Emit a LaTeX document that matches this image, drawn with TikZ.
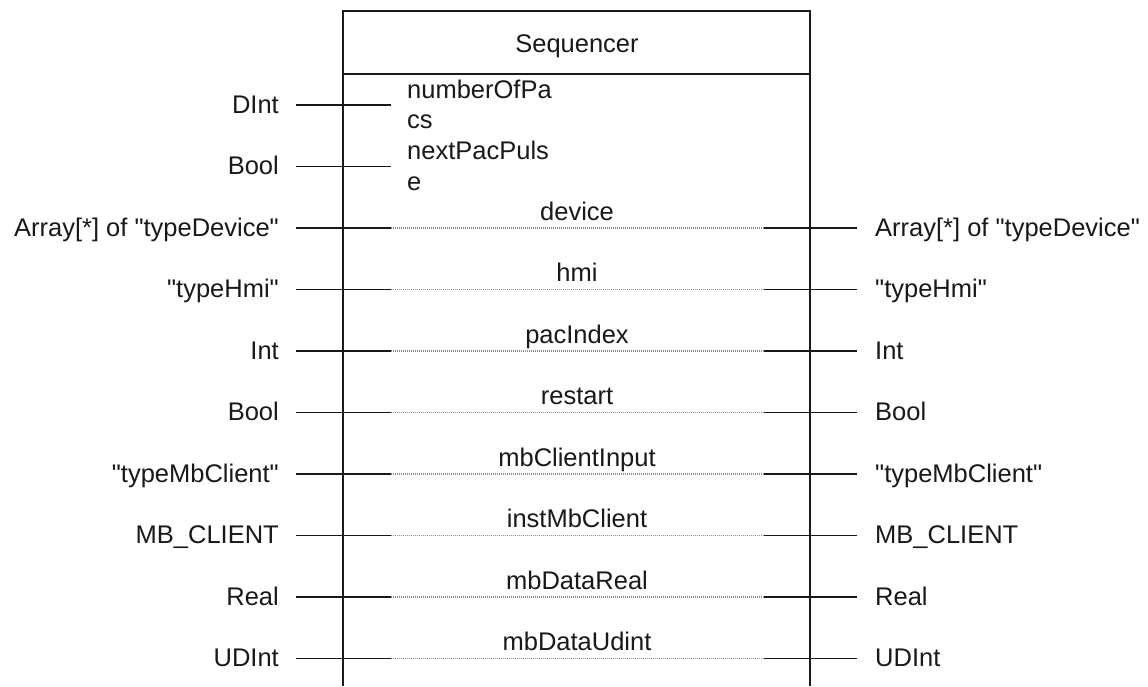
\documentclass[tikz,border=0pt]{standalone}
\usepackage{fontspec}
\setmainfont{Liberation Sans}
\newcommand{\dq}{\XeTeXglyph\XeTeXcharglyph34\relax}
\begin{document}
\begin{tikzpicture}[x=1pt,y=-1pt,
  lbl/.style={inner sep=0pt,font=\fontsize{25.5}{30}\selectfont,text=black!90},
  wire/.style={line width=1.7pt,black!90},
  inwire/.style={line width=1.2pt,black!45,dash pattern=on 1.2pt off 0.8pt},
  frame/.style={line width=1.7pt,black!90}]
\useasboundingbox (0,0) rectangle (1148,686);
\fill[white] (0,0) rectangle (1148,686);
% block frame
\draw[frame] (343,686) -- (343,11) -- (810,11) -- (810,686);
\draw[frame] (343,74) -- (810,74);
\node[lbl,anchor=base] (title) at (577,52) {Sequencer};
% rows with only inputs
\foreach \i/\y/\typ/\na/\nb in {1/105/DInt/numberOfPa/cs, 2/166.5/Bool/nextPacPuls/e}{
  \node[lbl,anchor=base east] (l\i) at (279,\y+8) {\typ};
  \coordinate (a\i) at (296,\y);
  \coordinate (b\i) at (391,\y);
  \draw[wire] (a\i) -- (b\i);
  \node[lbl,anchor=base west] (n\i) at (407,\y-7) {\na};
  \node[lbl,anchor=base west] (m\i) at (407,\y+23.5) {\nb};
}
% in/out rows
\foreach \i/\y/\typ/\nm in {
  3/228/{Array[*] of \dq typeDevice\dq}/device,
  4/289.5/{\dq typeHmi\dq}/hmi,
  5/351/Int/pacIndex,
  6/412.5/Bool/restart,
  7/474/{\dq typeMbClient\dq}/mbClientInput,
  8/535.5/MB\_CLIENT/instMbClient,
  9/597/Real/mbDataReal,
  10/658.5/UDInt/mbDataUdint}{
  \node[lbl,anchor=base east] (l\i) at (279,\y+8) {\typ};
  \node[lbl,anchor=base west] (r\i) at (875,\y+8) {\typ};
  \node[lbl,anchor=base] (n\i) at (577,\y-8) {\nm};
  \coordinate (a\i) at (296,\y);
  \coordinate (b\i) at (391,\y);
  \coordinate (c\i) at (764,\y);
  \coordinate (d\i) at (857,\y);
  \draw[wire] (a\i) -- (b\i);
  \draw[inwire] (b\i) -- (c\i);
  \draw[wire] (c\i) -- (d\i);
}
\end{tikzpicture}
\end{document}
